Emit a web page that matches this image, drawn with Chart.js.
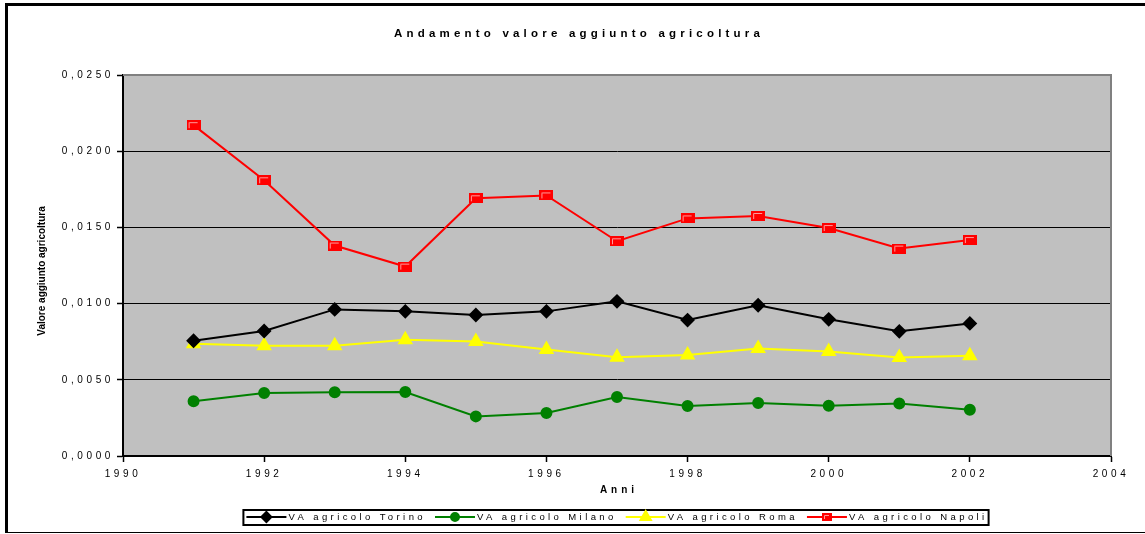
<!DOCTYPE html>
<html>
<head>
<meta charset="utf-8">
<script src="https://cdn.jsdelivr.net/npm/chart.js@4"></script>
<style>
  html, body { margin: 0; padding: 0; background: #fff; }
  #wrap { position: relative; width: 1145px; height: 534px; overflow: hidden; }
  #frame { position: absolute; left: 5px; top: 3px; width: 1200px; height: 526px;
    border-left: 3px solid #000; border-top: 3px solid #000; border-bottom: 1px solid #000;
    pointer-events: none; }
  canvas { position: absolute; left: 0; top: 0; }
</style>
</head>
<body>
<div id="wrap">
  <canvas id="vaChart" width="1145" height="534"></canvas>
  <div id="frame"></div>
</div>
<script>
// data
const years = [1991, 1992, 1993, 1994, 1995, 1996, 1997, 1998, 1999, 2000, 2001, 2002];
const vaTorino = [0.00756, 0.00820, 0.00962, 0.00949, 0.00925, 0.00949, 0.01015, 0.00892, 0.00989, 0.00897, 0.00818, 0.00870];
const vaMilano = [0.00359, 0.00413, 0.00418, 0.00420, 0.00260, 0.00282, 0.00387, 0.00328, 0.00348, 0.00330, 0.00344, 0.00304];
const vaRoma = [0.00736, 0.00723, 0.00723, 0.00762, 0.00752, 0.00699, 0.00648, 0.00662, 0.00706, 0.00686, 0.00646, 0.00657];
const vaNapoli = [0.02171, 0.01809, 0.01381, 0.01243, 0.01691, 0.01710, 0.01409, 0.01559, 0.01575, 0.01496, 0.01361, 0.01417];
const seriesLabels = ["VA agricolo Torino", "VA agricolo Milano", "VA agricolo Roma", "VA agricolo Napoli"];

const chartTitle = "Andamento valore aggiunto agricoltura";
const xTitle = "Anni";
const yTitle = "Valore aggiunto agricoltura";

const toPoints = (vals) => years.map((y, i) => ({ x: y, y: vals[i] }));

// red square marker with the light inner edge
function napoliMarker(w, h) {
  const c = document.createElement("canvas");
  c.width = w; c.height = h;
  const g = c.getContext("2d");
  g.fillStyle = "#ff0000";
  g.fillRect(0, 0, w, h);
  g.strokeStyle = "#ff9a9a";
  g.lineWidth = 1;
  g.beginPath();
  g.moveTo(2.5, h - 2);
  g.lineTo(2.5, 2.5);
  g.lineTo(w - 3, 2.5);
  g.stroke();
  return c;
}

Chart.defaults.font.family = "'Liberation Sans', Arial, sans-serif";
Chart.defaults.font.size = 10;
Chart.defaults.color = "#000";

function spacedText(ctx, text, x, y, font, spacing, align) {
  ctx.save();
  ctx.font = font;
  ctx.letterSpacing = spacing + "px";
  ctx.textAlign = align || "center";
  ctx.textBaseline = "middle";
  ctx.fillStyle = "#000";
  ctx.fillText(text, x, y);
  ctx.restore();
}

const plotDecor = {
  id: "plotDecor",
  beforeDraw(chart) {
    const { ctx, chartArea: a } = chart;
    ctx.save();
    ctx.fillStyle = "#c0c0c0";
    ctx.fillRect(a.left, a.top, a.right - a.left, a.bottom - a.top);
    ctx.restore();
    ctx.letterSpacing = "3.6px"; // spaced tick labels
  },
  beforeDatasetsDraw(chart) {
    const { ctx, chartArea: a } = chart;
    ctx.save();
    ctx.strokeStyle = "#808080";
    ctx.lineWidth = 2;
    ctx.beginPath();
    ctx.moveTo(a.left, a.top);
    ctx.lineTo(a.right, a.top);
    ctx.lineTo(a.right, a.bottom);
    ctx.stroke();
    ctx.restore();
  },
  afterDraw(chart) {
    const { ctx, chartArea: a } = chart;
    const cx = (a.left + a.right) / 2;
    ctx.save();
    ctx.letterSpacing = "0px";
    spacedText(ctx, chartTitle, 579, 34, "bold 11.5px 'Liberation Sans', Arial", 4.2);
    spacedText(ctx, xTitle, cx + 2, 490, "bold 10px 'Liberation Sans', Arial", 4);
    ctx.save();
    ctx.translate(42, 271);
    ctx.rotate(-Math.PI / 2);
    spacedText(ctx, yTitle, 0, 0, "bold 10px 'Liberation Sans', Arial", 0);
    ctx.restore();

    // legend: line + marker + label, boxed
    const font = "9.5px 'Liberation Sans', Arial";
    const spacing = 3.4;
    ctx.font = font;
    ctx.letterSpacing = spacing + "px";
    const lineLen = 40, gap = 9;
    const widths = seriesLabels.map((t) => ctx.measureText(t).width);
    const total = widths.reduce((s, w) => s + lineLen + 2 + w, 0) + gap * (widths.length - 1);
    let x = cx - total / 2;
    const y = 517;
    ctx.strokeStyle = "#000";
    ctx.lineWidth = 2;
    ctx.strokeRect(x - 3, y - 7, total + 4, 15);
    chart.data.datasets.forEach((ds, i) => {
      ctx.save();
      ctx.strokeStyle = ds.borderColor;
      ctx.lineWidth = 2;
      ctx.beginPath();
      ctx.moveTo(x, y);
      ctx.lineTo(x + lineLen, y);
      ctx.stroke();
      ctx.fillStyle = ds.pointBackgroundColor;
      ctx.strokeStyle = ds.pointBorderColor;
      Chart.helpers.drawPoint(ctx, {
        pointStyle: ds.legendPointStyle || ds.pointStyle,
        radius: ds.legendRadius,
        rotation: 0,
        borderWidth: 1
      }, x + lineLen / 2, y);
      ctx.restore();
      spacedText(ctx, seriesLabels[i], x + lineLen + 2, y, font, spacing, "left");
      x += lineLen + 2 + widths[i] + gap;
    });
    ctx.restore();
  }
};

const ctx = document.getElementById("vaChart").getContext("2d");
const sqMarker = napoliMarker(14, 10);
const sqLegend = napoliMarker(10, 8);

new Chart(ctx, {
  type: "line",
  data: {
    datasets: [
      {
        label: seriesLabels[0],
        data: toPoints(vaTorino),
        borderColor: "#000000",
        backgroundColor: "#000000",
        pointBackgroundColor: "#000000",
        pointBorderColor: "#000000",
        pointStyle: "rectRot",
        pointRadius: 6,
        legendRadius: 5,
        borderWidth: 2,
        tension: 0
      },
      {
        label: seriesLabels[1],
        data: toPoints(vaMilano),
        borderColor: "#008000",
        backgroundColor: "#008000",
        pointBackgroundColor: "#008000",
        pointBorderColor: "#008000",
        pointStyle: "circle",
        pointRadius: 5,
        legendRadius: 4,
        borderWidth: 2,
        tension: 0
      },
      {
        label: seriesLabels[2],
        data: toPoints(vaRoma),
        borderColor: "#ffff00",
        backgroundColor: "#ffff00",
        pointBackgroundColor: "#ffff00",
        pointBorderColor: "#ffff00",
        pointStyle: "triangle",
        pointRadius: 7,
        legendRadius: 6,
        borderWidth: 2,
        tension: 0
      },
      {
        label: seriesLabels[3],
        data: toPoints(vaNapoli),
        borderColor: "#ff0000",
        backgroundColor: "#ff0000",
        pointBackgroundColor: "#ff0000",
        pointBorderColor: "#ff0000",
        pointStyle: sqMarker,
        legendPointStyle: sqLegend,
        pointRadius: 7,
        legendRadius: 5,
        borderWidth: 2,
        tension: 0
      }
    ]
  },
  options: {
    responsive: false,
    animation: false,
    events: [],
    layout: { padding: { top: 75, right: 34, left: 0, bottom: 0 } },
    plugins: {
      legend: { display: false },
      title: { display: false },
      tooltip: { enabled: false }
    },
    scales: {
      x: {
        type: "linear",
        min: 1990,
        max: 2004,
        afterFit(scale) {
          scale.height = 78;
          scale.paddingLeft = 0; scale.paddingRight = 0;
          scale.paddingTop = 0; scale.paddingBottom = 0;
        },
        ticks: {
          stepSize: 2,
          padding: 6,
          maxRotation: 0,
          autoSkip: false,
          callback: (v) => String(v)
        },
        grid: {
          drawOnChartArea: false,
          drawTicks: true,
          tickLength: 6,
          color: "#000",
          tickWidth: 1.5
        },
        border: { display: true, color: "#000", width: 2 }
      },
      y: {
        min: 0,
        max: 0.025,
        afterFit(scale) {
          scale.width = 123;
          scale.paddingLeft = 0; scale.paddingRight = 0;
          scale.paddingTop = 0; scale.paddingBottom = 0;
        },
        ticks: {
          stepSize: 0.005,
          padding: 3,
          callback: (v) => v.toFixed(4).replace(".", ",")
        },
        grid: {
          color: "#000",
          lineWidth: 1,
          tickLength: 6,
          tickColor: "#000",
          tickWidth: 1.5
        },
        border: { display: true, color: "#000", width: 2 }
      }
    }
  },
  plugins: [plotDecor]
});
</script>
</body>
</html>
